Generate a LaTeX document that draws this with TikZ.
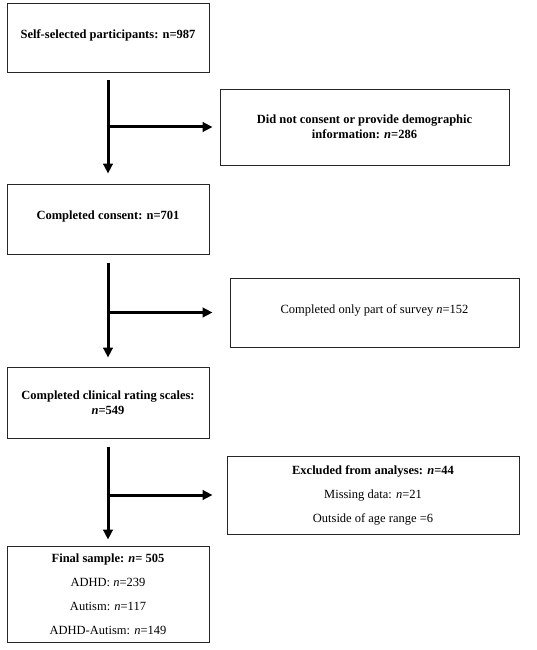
\documentclass[tikz,border=0pt]{standalone}
\usepackage{fontspec}
\setmainfont{Liberation Serif}
\usetikzlibrary{arrows.meta}
\begin{document}
\begin{tikzpicture}[x=1pt,y=1pt,
  box/.style={draw=black!85,line width=0.9pt,inner sep=0pt,align=center,anchor=center,
    font=\fontsize{12.5}{15.5}\selectfont},
  wide/.style={font=\fontsize{12.5}{24}\selectfont},
  arr/.style={line width=3pt,-{Triangle[length=10pt,width=9.5pt]}}]
\useasboundingbox (0,0) rectangle (536,-650);
\node[box,minimum width=202pt,minimum height=69pt,text depth=7pt] (b1) at (108,-37.5) {\textbf{Self-selected participants: n=987}};
\node[box,minimum width=289pt,minimum height=76pt] (b2) at (364.5,-127) {\textbf{Did not consent or provide demographic}\\\textbf{information: \textit{n}=286}};
\node[box,minimum width=202pt,minimum height=70pt,text depth=7pt] (b3) at (108,-219) {\textbf{Completed consent: n=701}};
\node[box,minimum width=289pt,minimum height=69pt,text depth=6pt] (b4) at (374.5,-312.5) {Completed only part of survey \textit{n}=152};
\node[box,minimum width=202pt,minimum height=71pt] (b5) at (108,-402.5) {\textbf{Completed clinical rating scales:}\\\textbf{\textit{n}=549}};
\node[box,wide,minimum width=292pt,minimum height=78pt] (b6) at (373,-495) {\textbf{Excluded from analyses: \textit{n}=44}\\Missing data: \textit{n}=21\\Outside of age range =6};
\node[box,wide,minimum width=202pt,minimum height=96pt] (b7) at (108,-594) {\textbf{Final sample: \textit{n}= 505}\\ADHD: \textit{n}=239\\Autism: \textit{n}=117\\ADHD-Autism: \textit{n}=149};
\draw[arr] ([yshift=-8pt]b1.south) -- ([yshift=10pt]b3.north);
\draw[arr] ([xshift=-1.5pt]b1.south |- b2.west) -- ([xshift=-7pt]b2.west);
\draw[arr] ([yshift=-9pt]b3.south) -- ([yshift=9pt]b5.north);
\draw[arr] ([xshift=-1.5pt]b3.south |- b4.west) -- ([xshift=-17pt]b4.west);
\draw[arr] ([yshift=-9pt]b5.south) -- ([yshift=6pt]b7.north);
\draw[arr] ([xshift=-1.5pt]b5.south |- b6.west) -- ([xshift=-14pt]b6.west);
\end{tikzpicture}
\end{document}
